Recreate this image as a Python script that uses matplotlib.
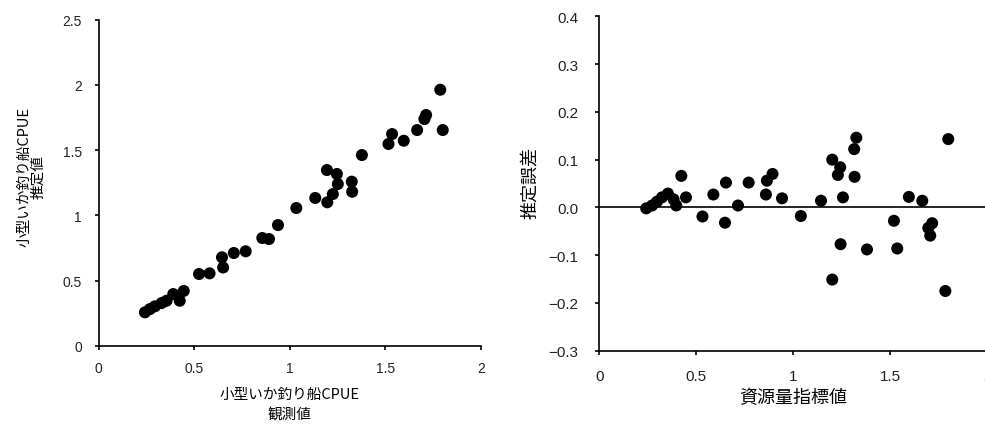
import matplotlib.pyplot as plt
from matplotlib.ticker import FuncFormatter

plt.rcParams['font.family'] = ['Noto Sans CJK JP', 'DejaVu Sans']

# left panel: observed vs estimated CPUE
obs = [0.242, 0.268, 0.294, 0.329, 0.355, 0.39, 0.424, 0.445, 0.525, 0.58,
       0.651, 0.645, 0.707, 0.769, 0.856, 0.891, 0.938, 1.034, 1.133, 1.196,
       1.194, 1.246, 1.251, 1.225, 1.324, 1.326, 1.377, 1.516, 1.535, 1.596,
       1.666, 1.704, 1.713, 1.787, 1.80]
est = [0.256, 0.281, 0.302, 0.327, 0.345, 0.396, 0.345, 0.42, 0.55, 0.555,
       0.60, 0.678, 0.711, 0.724, 0.826, 0.818, 0.925, 1.056, 1.133, 1.10,
       1.347, 1.317, 1.24, 1.163, 1.258, 1.181, 1.462, 1.547, 1.623, 1.572,
       1.654, 1.738, 1.769, 1.963, 1.654]

# right panel: resource index vs estimation error
idx = [0.242, 0.272, 0.297, 0.323, 0.354, 0.383, 0.397, 0.423, 0.447, 0.532,
       0.588, 0.648, 0.653, 0.715, 0.770, 0.859, 0.864, 0.893, 0.942, 1.039,
       1.143, 1.201, 1.201, 1.230, 1.242, 1.244, 1.256, 1.314, 1.325, 1.316,
       1.380, 1.519, 1.536, 1.596, 1.665, 1.716, 1.696, 1.706, 1.784, 1.799]
err = [-0.002, 0.004, 0.012, 0.021, 0.029, 0.017, 0.004, 0.066, 0.021, -0.019,
       0.027, -0.032, 0.052, 0.004, 0.052, 0.027, 0.056, 0.070, 0.019, -0.018,
       0.014, 0.100, -0.151, 0.068, 0.084, -0.077, 0.021, 0.122, 0.146, 0.064,
       -0.088, -0.028, -0.086, 0.022, 0.014, -0.033, -0.043, -0.059, -0.175, 0.143]


def style(ax, size, xpad, ypad):
    for s in ['top', 'right']:
        ax.spines[s].set_visible(False)
    for s in ['left', 'bottom']:
        ax.spines[s].set_linewidth(1.2)
        ax.spines[s].set_color('black')
    ax.tick_params(direction='out', length=3, width=1.2, labelsize=size,
                   colors='black', labelcolor='#222222')
    ax.tick_params(axis='x', pad=xpad)
    ax.tick_params(axis='y', pad=ypad)
    for lab in ax.get_xticklabels() + ax.get_yticklabels():
        lab.set_family('Liberation Sans')


fig = plt.figure(figsize=(9.85, 4.27), dpi=100)

ax1 = fig.add_axes([0.1002, 0.188, 0.3881, 0.7635])
ax1.scatter(obs, est, s=75, color='black', edgecolors='none', zorder=3)
ax1.set_xlim(0, 2)
ax1.set_ylim(0, 2.5)
ax1.set_xticks([0, 0.5, 1, 1.5, 2])
ax1.set_yticks([0, 0.5, 1, 1.5, 2, 2.5])
ax1.xaxis.set_major_formatter(FuncFormatter(lambda v, p: f'{v:g}'))
ax1.yaxis.set_major_formatter(FuncFormatter(lambda v, p: f'{v:g}'))
style(ax1, 10, 8, 9)
ax1.set_xlabel('小型いか釣り船CPUE\n観測値', fontsize=10.5, linespacing=1.5,
               va='center')
ax1.xaxis.set_label_coords(0.5, -0.177)
ax1.set_ylabel('小型いか釣り船CPUE\n推定値', fontsize=10.5, linespacing=1.0,
               va='center')
ax1.yaxis.set_label_coords(-0.177, 0.52)

ax2 = fig.add_axes([0.6084, 0.1763, 0.3939, 0.7831])
ax2.scatter(idx, err, s=75, color='black', edgecolors='none', zorder=3)
ax2.axhline(0, color='black', linewidth=1.2, zorder=2)
ax2.set_xlim(0, 2)
ax2.set_ylim(-0.3, 0.4)
ax2.set_xticks([0, 0.5, 1, 1.5, 2])
ax2.set_yticks([-0.3, -0.2, -0.1, 0.0, 0.1, 0.2, 0.3, 0.4])
ax2.xaxis.set_major_formatter(FuncFormatter(lambda v, p: f'{v:g}'))
ax2.yaxis.set_major_formatter(
    FuncFormatter(lambda v, p: f'{v:.1f}'.replace('-', '\u2212')))
style(ax2, 11, 10.5, 12)
ax2.set_xlabel('資源量指標値', fontsize=13, va='center')
ax2.xaxis.set_label_coords(0.5, -0.138)
ax2.set_ylabel('推定誤差', fontsize=13, va='center')
ax2.yaxis.set_label_coords(-0.179, 0.505)

fig.savefig('out.png', dpi=100)
